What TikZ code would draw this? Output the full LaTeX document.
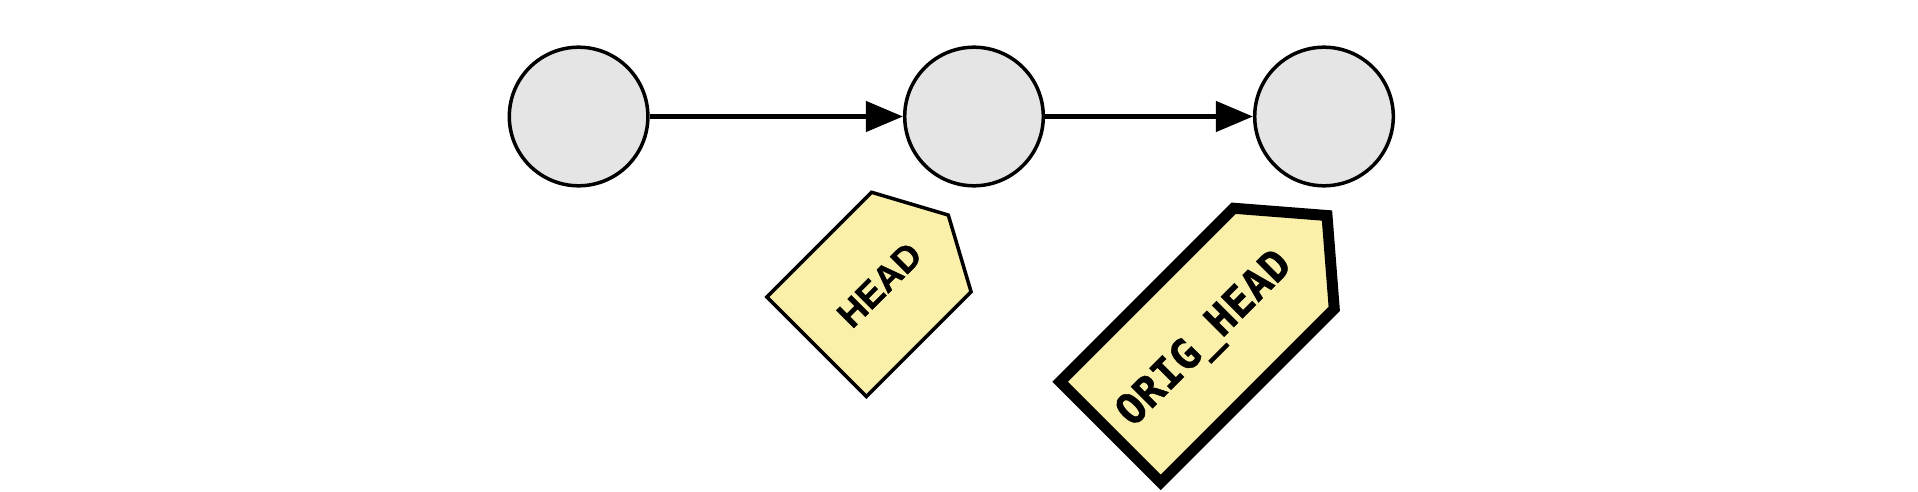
\documentclass[tikz,border=0pt]{standalone}
\usepackage{fontspec}
\setmainfont{Liberation Sans}
\newfontfamily\tagsans{Liberation Sans Bold}[FakeBold=1]
\newfontfamily\tagmono{DejaVu Sans Mono Bold}[FakeBold=1]
\usetikzlibrary{arrows.meta}
\definecolor{commitgray}{RGB}{229,229,229}
\definecolor{tagyellow}{RGB}{250,240,170}
\begin{document}
\begin{tikzpicture}[x=1pt,y=-1pt,
  commit/.style={circle,draw=black,line width=3.5pt,fill=commitgray,minimum size=138.6pt,inner sep=0pt},
  link/.style={line width=4.5pt,-{Triangle[length=37pt,width=30pt]}},
  tagshape/.style={fill=tagyellow,draw=black,line join=miter},
  taglabel/.style={rotate=45,inner sep=0pt,text=black,anchor=base}]
\useasboundingbox (0,0) rectangle (1918,492);

\node[commit] (c1) at (578.6,116.5) {};
\node[commit] (c2) at (974,116.5) {};
\node[commit] (c3) at (1324,116.5) {};
\draw[link] (c1) -- (c2);
\draw[link] (c2) -- (c3);

% HEAD tag
\begin{scope}[shift={(815.35,348)},rotate=45]
  \draw[tagshape,line width=3.5pt] (1.75,-70.3) -- (149.9,-70.3) -- (188,0) -- (149.9,70.3) -- (1.75,70.3) -- cycle;
  \node[taglabel] (head) at (90,13) {\fontsize{36}{42}\selectfont\tagsans HEAD};
\end{scope}

% ORIG_HEAD tag
\begin{scope}[shift={(1106.5,436)},rotate=45]
  \draw[tagshape,line width=11pt] (5.5,-71.2) -- (250.9,-71.2) -- (311.8,0) -- (250.9,71.2) -- (5.5,71.2) -- cycle;
  \node[taglabel] (orighead) at (138,13) {\fontsize{42}{48}\selectfont\tagmono ORIG\_HEAD};
\end{scope}
\end{tikzpicture}
\end{document}
